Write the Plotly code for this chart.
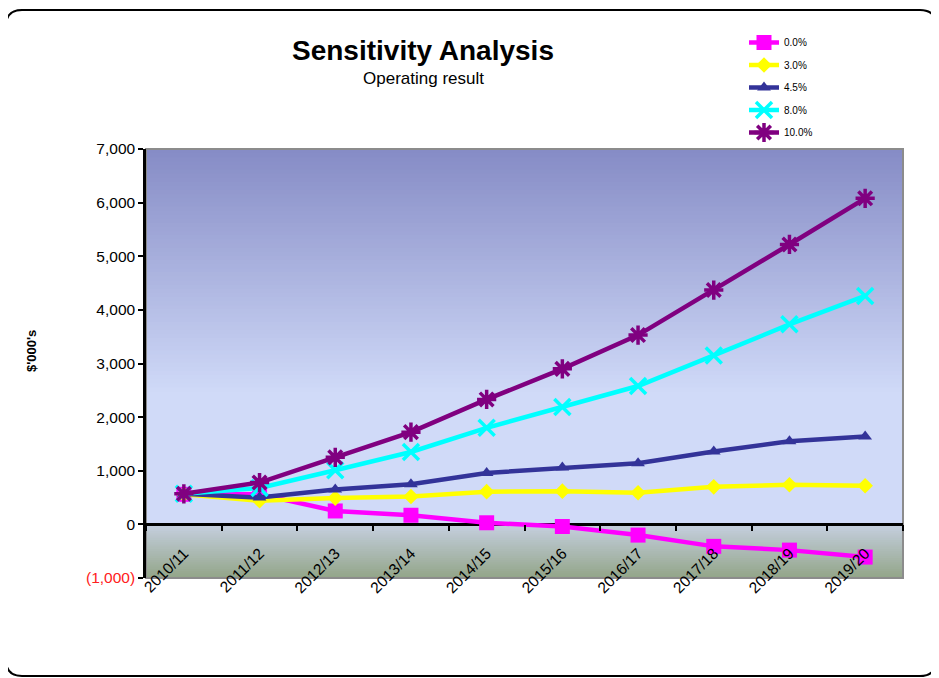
import plotly.graph_objects as go

categories = ["2010/11", "2011/12", "2012/13", "2013/14", "2014/15",
              "2015/16", "2016/17", "2017/18", "2018/19", "2019/20"]
series_names = ["0.0%", "3.0%", "4.5%", "8.0%", "10.0%"]
s_00 = [560, 560, 250, 170, 30, -40, -200, -410, -480, -610]
s_30 = [560, 440, 490, 520, 610, 620, 590, 700, 740, 720]
s_45 = [570, 500, 650, 750, 960, 1060, 1140, 1360, 1550, 1640]
s_80 = [570, 680, 1010, 1350, 1800, 2190, 2580, 3150, 3730, 4260]
s_100 = [570, 780, 1250, 1720, 2330, 2900, 3530, 4370, 5220, 6080]
y_tickvals = [-1000, 0, 1000, 2000, 3000, 4000, 5000, 6000, 7000]
y_ticktext = ['<span style="color:#ff2020">(1,000)</span>', "0", "1,000", "2,000",
              "3,000", "4,000", "5,000", "6,000", "7,000"]

OFF = 8  # page body margin
W, H = 939 - OFF, 678 - OFF
L, R, T, B = 146, 903, 149, 578  # plot area in reference pixels

styles = [
    dict(color="#ff00ff", symbol="square", size=15, lw=0),
    dict(color="#ffff00", symbol="diamond", size=12, lw=0),
    dict(color="#333399", symbol="triangle-up", size=12, lw=0),
    dict(color="#00ffff", symbol="x-thin", size=16, lw=3.5),
    dict(color="#800080", symbol="asterisk", size=16, lw=3.5),
]
data = [s_00, s_30, s_45, s_80, s_100]

fig = go.Figure()
for name, vals, st in zip(series_names, data, styles):
    fig.add_trace(go.Scatter(
        x=categories, y=vals, name=name, legendgroup=name, mode="lines+markers",
        line=dict(color=st["color"], width=4.5),
        marker=dict(color=st["color"], symbol=st["symbol"], size=st["size"],
                    line=dict(color=st["color"], width=st["lw"])),
    ))

def lerp(c1, c2, t):
    return "rgb(%d,%d,%d)" % tuple(round(a + (b - a) * t) for a, b in zip(c1, c2))

shapes = []
top_c, mid_c = (134, 140, 198), (208, 218, 248)
n = 60
for i in range(n):
    y_top = 7000 - i * (4600 / n)
    shapes.append(dict(type="rect", xref="paper", yref="y", x0=0, x1=1, y0=0, y1=y_top,
                       fillcolor=lerp(top_c, mid_c, i / (n - 1)), line=dict(width=0), layer="below"))
lo_top, lo_bot = (196, 206, 222), (148, 166, 138)
m = 24
for i in range(m):
    y_top = 0 - i * (1000 / m)
    shapes.append(dict(type="rect", xref="paper", yref="y", x0=0, x1=1, y0=-1000, y1=y_top,
                       fillcolor=lerp(lo_top, lo_bot, i / (m - 1)), line=dict(width=0), layer="below"))

shapes.append(dict(type="rect", xref="paper", yref="paper", x0=0, x1=1, y0=0, y1=1,
                   line=dict(color="#8c8c8c", width=2), layer="below"))

def fx(px):
    return (px - L) / (R - L)
def fy(py):
    return (B - py) / (B - T)
x0p, x1p, y0p, y1p, r = 6, 936, 10, 676, 16
path = ("M {a},{b} L {c},{b} Q {d},{b} {d},{e} L {d},{f} Q {d},{g} {c},{g} "
        "L {a},{g} Q {h},{g} {h},{f} L {h},{e} Q {h},{b} {a},{b} Z").format(
    a=fx(x0p + r), b=fy(y0p), c=fx(x1p - r), d=fx(x1p), e=fy(y0p + r),
    f=fy(y1p - r), g=fy(y1p), h=fx(x0p))
shapes.append(dict(type="path", xref="paper", yref="paper", path=path,
                   line=dict(color="black", width=2), layer="below"))

fig.update_layout(
    width=W, height=H,
    margin=dict(l=L - OFF, r=W - (R - OFF), t=T - OFF, b=H - (B - OFF), pad=0),
    paper_bgcolor="white", plot_bgcolor="rgba(0,0,0,0)",
    font=dict(family="Liberation Sans, Arial", color="black"),
    shapes=shapes,
    showlegend=True,
    legend=dict(x=fx(744), y=fy(28), xanchor="left", yanchor="top",
                font=dict(size=10, color="black"), bgcolor="rgba(0,0,0,0)",
                tracegroupgap=3.5, itemwidth=30),
    annotations=[
        dict(text="<b>Sensitivity Analysis</b>", x=fx(423), y=fy(51), xref="paper", yref="paper",
             showarrow=False, font=dict(size=28, color="black"), xanchor="center", yanchor="middle"),
        dict(text="Operating result", x=fx(423), y=fy(79), xref="paper", yref="paper",
             showarrow=False, font=dict(size=17, color="black"), xanchor="center", yanchor="middle"),
        dict(text="<b>$'000's</b>", x=fx(31), y=fy(351), xref="paper", yref="paper",
             showarrow=False, textangle=-90, font=dict(size=13, color="black"),
             xanchor="center", yanchor="middle"),
    ],
)

fig.update_yaxes(
    range=[-1000, 7000], tickvals=y_tickvals, ticktext=y_ticktext,
    showgrid=False, zeroline=True, zerolinecolor="black", zerolinewidth=2.5,
    showline=True, linecolor="black", linewidth=2.5,
    ticks="outside", ticklen=5, tickwidth=2, tickcolor="black",
    tickfont=dict(size=15.5, color="black"), layer="above traces",
)
fig.update_xaxes(
    type="category", range=[-0.5, 9.5], showgrid=False,
    anchor="free", position=1000 / 8000,
    showline=False, ticks="outside", tickson="boundaries", ticklen=6, tickwidth=2,
    tickcolor="black", tickangle=-45, ticklabelstandoff=16,
    tickfont=dict(size=15.5, color="black"),
)

fig.write_html("out.html")
